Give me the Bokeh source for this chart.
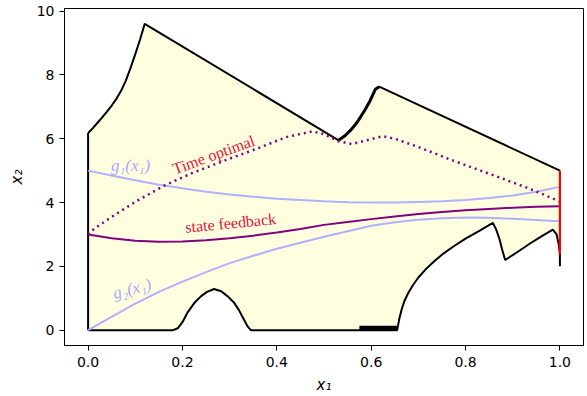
from bokeh.plotting import figure
from bokeh.models import Range1d
from bokeh.core.properties import value
from bokeh.embed import file_html
from bokeh.resources import INLINE
import math

# upper boundary of the region (x1, x2)
upper_x = [0.0, 0.01, 0.02, 0.03, 0.04, 0.05, 0.06, 0.07, 0.08, 0.09, 0.10, 0.11,
           0.12, 0.531]
upper_y = [6.18, 6.33, 6.5, 6.67, 6.85, 7.04, 7.25, 7.5, 7.82, 8.22, 8.65, 9.1,
           9.6, 5.95]
notch_x = [0.531, 0.545, 0.556, 0.567, 0.577, 0.588, 0.598, 0.609, 0.617]
notch_y = [5.95, 6.1, 6.26, 6.45, 6.67, 6.93, 7.2, 7.55, 7.63]
upper2_x = [0.617, 1.0]
upper2_y = [7.63, 5.0]

# lower boundary of the region
lower_x = [0.0, 0.18, 0.19, 0.2, 0.211, 0.225, 0.239, 0.252, 0.267, 0.282, 0.296,
           0.309, 0.32, 0.33, 0.338, 0.345, 0.575, 0.655, 0.657, 0.66, 0.664, 0.67,
           0.678, 0.688, 0.7, 0.715, 0.733, 0.753, 0.775, 0.8, 0.83, 0.858, 0.865,
           0.872, 0.878, 0.884, 0.91, 0.935, 0.96, 0.985, 0.993, 0.998, 1.0, 1.0]
lower_y = [0.0, 0.0, 0.06, 0.25, 0.56, 0.85, 1.06, 1.2, 1.29, 1.22, 1.06,
           0.87, 0.62, 0.34, 0.12, 0.0, 0.0, 0.0, 0.15, 0.38, 0.62, 0.9,
           1.15, 1.4, 1.65, 1.9, 2.15, 2.4, 2.63, 2.87, 3.12, 3.36, 3.15,
           2.85, 2.5, 2.2, 2.45, 2.7, 2.93, 3.15, 3.0, 2.65, 2.37, 2.0]
band_x = [0.575, 0.655]
band_y = [0.06, 0.06]

# terminal set at x1 = 1
term_x = [1.0, 1.0]
term_y = [2.37, 5.0]

# g1, g2 curves
g_x = [0.0, 0.05, 0.1, 0.15, 0.2, 0.25, 0.3, 0.35, 0.4, 0.45, 0.5, 0.55, 0.6,
       0.65, 0.7, 0.75, 0.8, 0.85, 0.9, 0.95, 1.0]
g1_y = [5.0, 4.85, 4.7, 4.56, 4.45, 4.34, 4.25, 4.18, 4.12, 4.08, 4.04, 4.01, 4.0,
        4.0, 4.02, 4.04, 4.08, 4.14, 4.22, 4.34, 4.49]
g2_y = [0.0, 0.42, 0.83, 1.2, 1.52, 1.82, 2.1, 2.33, 2.55, 2.74, 2.93, 3.1, 3.27,
        3.38, 3.46, 3.51, 3.53, 3.52, 3.49, 3.45, 3.41]

# state feedback trajectory
sf_x = [0.0, 0.05, 0.1, 0.15, 0.2, 0.25, 0.3, 0.35, 0.4, 0.45, 0.5, 0.55, 0.6,
        0.65, 0.7, 0.75, 0.8, 0.85, 0.9, 0.95, 1.0]
sf_y = [3.0, 2.88, 2.8, 2.77, 2.78, 2.82, 2.88, 2.96, 3.06, 3.17, 3.3, 3.39, 3.48,
        3.56, 3.64, 3.7, 3.76, 3.8, 3.84, 3.87, 3.88]

# time optimal trajectory
to_x = [0.0, 0.013, 0.05, 0.1, 0.16, 0.22, 0.29, 0.36, 0.42, 0.476, 0.5, 0.531,
        0.56, 0.59, 0.624, 0.65, 0.7, 0.767, 0.873, 0.943, 1.0]
to_y = [3.0, 3.18, 3.55, 4.02, 4.52, 4.92, 5.32, 5.7, 6.05, 6.23, 6.14, 5.92,
        5.83, 5.95, 6.08, 6.0, 5.74, 5.35, 4.78, 4.39, 4.03]

# annotations
ann_text = ["Time optimal", "state feedback"]
ann_x = [0.266, 0.302]
ann_y = [5.5, 3.36]
ann_angle = [20, 5.5]
g_lab_text = ["g\u2081(x\u2081)", "g\u2082(x\u2081)"]
g_lab_x = [0.09, 0.093]
g_lab_y = [5.17, 1.3]
g_lab_angle = [0, 15]

x_ticks = [0.0, 0.2, 0.4, 0.6, 0.8, 1.0]
y_ticks = [0, 2, 4, 6, 8, 10]

p = figure(frame_width=519, frame_height=337, output_backend="svg",
           toolbar_location=None, x_range=Range1d(-0.05, 1.05),
           y_range=Range1d(-0.48, 10.08), min_border_left=64, min_border_right=4,
           min_border_top=8, min_border_bottom=51)
p.background_fill_color = "white"
p.border_fill_color = "white"
p.outline_line_color = "black"
p.outline_line_width = 1
p.xgrid.visible = False
p.ygrid.visible = False

# fill
poly_x = upper_x + notch_x[1:] + upper2_x[1:] + lower_x[::-1]
poly_y = upper_y + notch_y[1:] + upper2_y[1:] + lower_y[::-1]
p.patch(poly_x, poly_y, fill_color="#ffffe0", line_color=None)

p.line([0.0, 0.0], [0.0, upper_y[0]], line_color="black", line_width=2)
p.line(upper_x, upper_y, line_color="black", line_width=2)
p.line(notch_x, notch_y, line_color="black", line_width=3)
p.line(upper2_x, upper2_y, line_color="black", line_width=2)
p.line(lower_x, lower_y, line_color="black", line_width=2)
p.line(band_x, band_y, line_color="black", line_width=5)

p.line(g_x, g1_y, line_color="#b0b0ff", line_width=2)
p.line(g_x, g2_y, line_color="#b0b0ff", line_width=2)
p.line(sf_x, sf_y, line_color="purple", line_width=2)
p.line(to_x, to_y, line_color="purple", line_width=2.5, line_dash="2 4")
p.line(term_x, term_y, line_color="red", line_width=2.2)

p.text(x=ann_x, y=ann_y, text=ann_text, angle=[math.radians(a) for a in ann_angle],
       text_color="crimson", text_font=value("Liberation Serif"),
       text_font_size="16px", text_align="center", text_baseline="middle")
p.text(x=g_lab_x, y=g_lab_y, text=g_lab_text, angle=[math.radians(a) for a in g_lab_angle],
       text_color="#a8a8ff", text_font=value("Liberation Serif"), text_font_style="italic",
       text_font_size="17px", text_align="center", text_baseline="middle")

for ax in (p.xaxis[0], p.yaxis[0]):
    ax.axis_line_color = "black"
    ax.major_tick_line_color = "black"
    ax.major_tick_in = 0
    ax.major_tick_out = 5
    ax.minor_tick_line_color = None
    ax.major_label_text_font = "DejaVu Sans"
    ax.major_label_text_font_size = "14px"
    ax.major_label_text_color = "black"
    ax.axis_label_text_font = "DejaVu Sans"
    ax.axis_label_text_font_style = "italic"
    ax.axis_label_text_font_size = "15px"
    ax.axis_label_text_color = "black"

p.xaxis.ticker = x_ticks
p.yaxis.ticker = y_ticks
p.xaxis.major_label_overrides = {v: f"{v:.1f}" for v in x_ticks}
p.yaxis.major_label_overrides = {v: f"{v}" for v in y_ticks}
p.xaxis.axis_label = "x\u2081"
p.yaxis.axis_label = "x\u2082"
p.xaxis.major_label_standoff = 6
p.yaxis.major_label_standoff = 5
p.xaxis.axis_label_standoff = 6
p.yaxis.axis_label_standoff = 8

open("out.html", "w").write(file_html(p, INLINE))
